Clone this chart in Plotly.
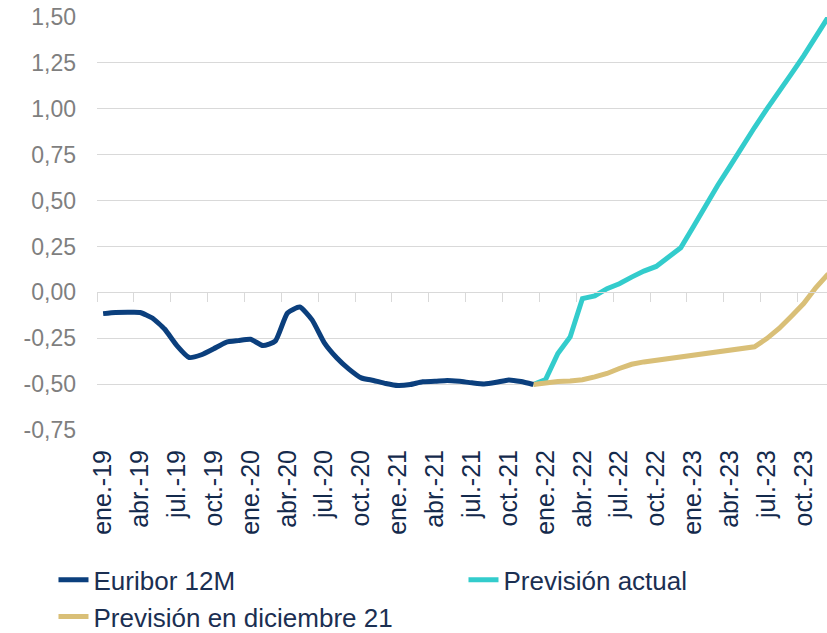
import plotly.graph_objects as go

# monthly axis ene.-19 .. dic.-23
months = ["ene.", "feb.", "mar.", "abr.", "may.", "jun.", "jul.", "ago.", "sept.", "oct.", "nov.", "dic."]
years = ["19", "20", "21", "22", "23"]
labels = [m + "-" + y for y in years for m in months]

# Euribor 12M, ene.-19 .. dic.-21
euribor = [-0.116, -0.110, -0.109, -0.110, -0.140, -0.200, -0.290, -0.355, -0.340, -0.307,
           -0.272, -0.263, -0.256, -0.290, -0.266, -0.112, -0.080, -0.150, -0.275, -0.356,
           -0.418, -0.466, -0.480, -0.497, -0.508, -0.502, -0.487, -0.485, -0.480, -0.485,
           -0.493, -0.499, -0.490, -0.477, -0.486, -0.502]

# forecasts, dic.-21 .. dic.-23
prevision_actual = [-0.502, -0.475, -0.333, -0.243, -0.034, -0.020, 0.020, 0.047, 0.083, 0.116,
                    0.141, 0.192, 0.243, 0.355, 0.473, 0.582, 0.686, 0.795, 0.898, 0.998,
                    1.100, 1.190, 1.288, 1.390, 1.500]
prevision_dic21 = [-0.502, -0.493, -0.486, -0.483, -0.476, -0.461, -0.442, -0.415, -0.392, -0.379,
                   -0.370, -0.358, -0.349, -0.342, -0.333, -0.322, -0.311, -0.303, -0.297, -0.252,
                   -0.197, -0.130, -0.061, 0.026, 0.100]

y_ticks = [-0.75, -0.5, -0.25, 0, 0.25, 0.5, 0.75, 1.0, 1.25, 1.5]
y_text = [f"{v:.2f}".replace(".", ",") for v in y_ticks]

x_hist = list(range(len(euribor)))
x_fc = list(range(35, 35 + len(prevision_actual)))

FONT = "Arial, Liberation Sans, sans-serif"
GRID = "#d9d9d9"

fig = go.Figure()
fig.add_trace(go.Scatter(x=x_hist, y=euribor, mode="lines", name="Euribor 12M", legendwidth=365,
                         line=dict(color="#0b3f7d", width=5, shape="spline", smoothing=0.5),
                         xaxis="x2"))
fig.add_trace(go.Scatter(x=x_fc, y=prevision_actual, mode="lines", name="Previsión actual",
                         legendwidth=210, line=dict(color="#33cccc", width=5)))
fig.add_trace(go.Scatter(x=x_fc, y=prevision_dic21, mode="lines", name="Previsión en diciembre 21",
                         legendwidth=365, line=dict(color="#d9bf77", width=5)))

xrange = [-0.5, 58.9]
tick_idx = list(range(0, 60, 3))

fig.update_layout(
    width=827, height=633,
    margin=dict(l=97, r=0, t=17, b=203, autoexpand=False),
    paper_bgcolor="white", plot_bgcolor="white",
    font=dict(family=FONT),
    showlegend=True,
    legend=dict(orientation="h", x=-0.0596, y=-0.306,
                xanchor="left", yanchor="top",
                font=dict(size=26, color="#1b2f52"), traceorder="normal"),
    xaxis=dict(range=xrange, tickmode="array", tickvals=tick_idx,
               ticktext=[labels[i] for i in tick_idx], tickangle=-90,
               tickfont=dict(size=25, color="#142a4c"), showgrid=False, zeroline=False,
               showline=False, ticks="", ticklabelstandoff=14, automargin=False),
    xaxis2=dict(range=xrange, overlaying="x", anchor="free", position=1 / 3,
                tickmode="array", tickvals=[i - 0.5 for i in tick_idx] + [59.5],
                ticks="outside", ticklen=9, tickcolor=GRID, tickwidth=1,
                showline=True, linecolor=GRID, linewidth=1,
                showticklabels=False, showgrid=False, zeroline=False),
    yaxis=dict(range=[-0.75, 1.5], tickmode="array", tickvals=y_ticks, ticktext=y_text,
               tickfont=dict(size=23, color="#7f7f7f"), showgrid=True, gridcolor=GRID,
               gridwidth=1, zeroline=True, zerolinecolor=GRID, zerolinewidth=1,
               ticklabelstandoff=20, automargin=False),
)

fig.write_html("out.html", config={"displayModeBar": False},
               post_script="document.body.style.margin='0px';")
